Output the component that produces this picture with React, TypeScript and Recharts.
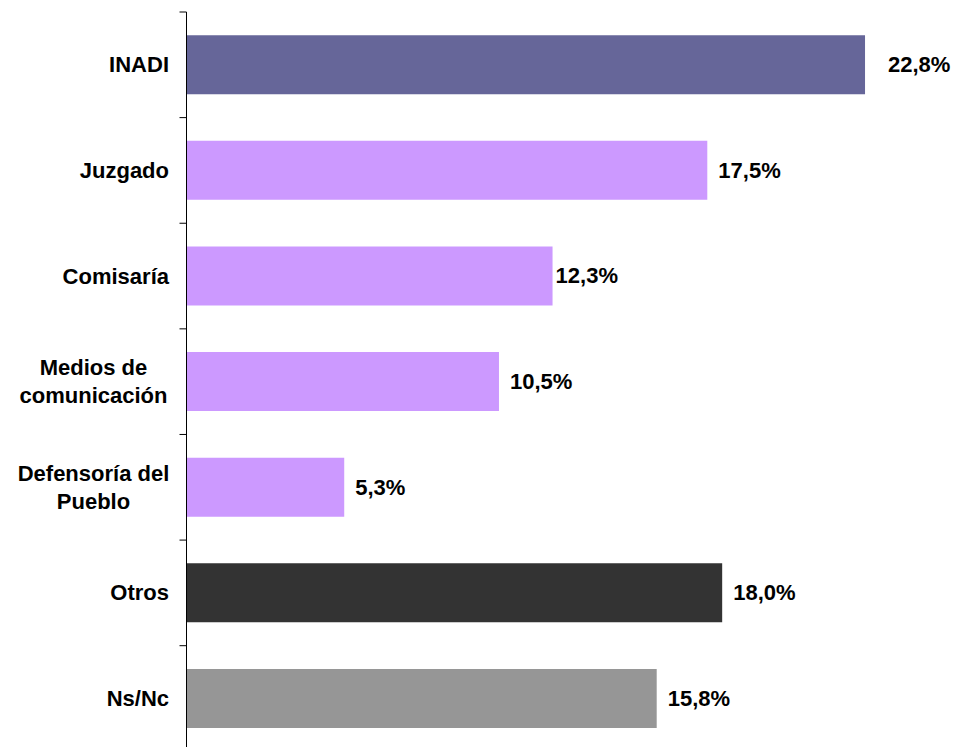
import React from 'react'
import { BarChart, Bar, XAxis, YAxis, Cell, LabelList } from 'recharts'

// categories (line breaks as in the original labels)
const categories = [
  'INADI',
  'Juzgado',
  'Comisaría',
  'Medios de\ncomunicación',
  'Defensoría del\nPueblo',
  'Otros',
  'Ns/Nc'
]

// percentages
const values = [22.8, 17.5, 12.3, 10.5, 5.3, 18.0, 15.8]

const barColors = ['#666699', '#CC99FF', '#CC99FF', '#CC99FF', '#CC99FF', '#333333', '#969696']

const chartData = categories.map((name, i) => ({ name, value: values[i] }))

const FONT = '"Liberation Sans", Arial, sans-serif'
const FONT_SIZE = 22
const BAND = 105.6 // height of one category band in px

// small per-bar nudges for value labels, as in the original
const labelGap: Record<string, number> = { INADI: 23, 'Comisaría': 3 }

function CategoryTick(props: any) {
  const { x, y, payload } = props
  const lines = String(payload.value).split('\n')
  return (
    <g>
      <line x1={x - 7} x2={x} y1={y - BAND / 2} y2={y - BAND / 2} stroke="#000" strokeWidth={1} />
      {lines.length === 1 ? (
        <text x={x - 17.5} y={y} textAnchor="end" dominantBaseline="central"
          fontFamily={FONT} fontWeight="bold" fontSize={FONT_SIZE} fill="#000">
          {lines[0]}
        </text>
      ) : (
        lines.map((line, i) => (
          <text key={i} x={x - 93} y={y + (i - (lines.length - 1) / 2) * 28}
            textAnchor="middle" dominantBaseline="central"
            fontFamily={FONT} fontWeight="bold" fontSize={FONT_SIZE} fill="#000">
            {line}
          </text>
        ))
      )}
    </g>
  )
}

function ValueLabel(props: any) {
  const { x, y, width, height, value, index } = props
  const gap = labelGap[categories[index]] ?? 11
  return (
    <text x={x + width + gap} y={y + height / 2} dominantBaseline="central"
      fontFamily={FONT} fontWeight="bold" fontSize={FONT_SIZE} fill="#000">
      {Number(value).toFixed(1).replace('.', ',')}%
    </text>
  )
}

export default function App() {
  return (
    <div style={{ position: 'absolute', left: 0, top: 0, width: 956, height: 747, overflow: 'hidden', background: '#fff' }}>
      <BarChart
        width={956}
        height={760}
        data={chartData}
        layout="vertical"
        margin={{ top: 12, right: 25.5, left: 0.5, bottom: 8.7 }}
        barCategoryGap="22%"
      >
        <XAxis type="number" domain={[0, 25]} hide />
        <YAxis
          type="category"
          dataKey="name"
          width={186}
          axisLine={{ stroke: '#000', strokeWidth: 1 }}
          tickLine={false}
          tickSize={0}
          tickMargin={0}
          interval={0}
          tick={<CategoryTick />}
        />
        <Bar dataKey="value" isAnimationActive={false}>
          {chartData.map((_, i) => (
            <Cell key={`cell-${i}`} fill={barColors[i]} />
          ))}
          <LabelList dataKey="value" content={<ValueLabel />} />
        </Bar>
      </BarChart>
    </div>
  )
}
